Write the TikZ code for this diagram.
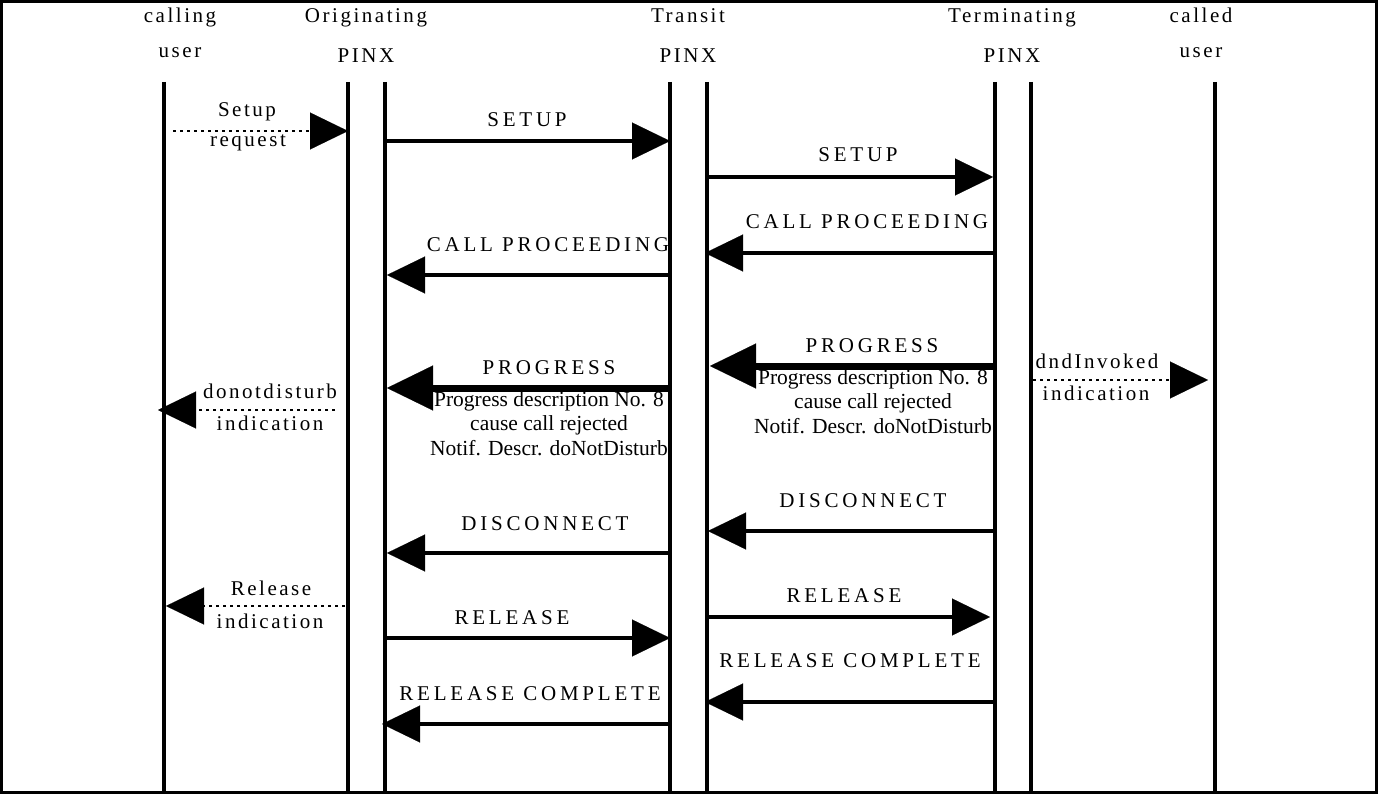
\documentclass[tikz,border=0pt]{standalone}
\usepackage{fontspec}
\setmainfont{Liberation Serif}
\newfontfamily\capsls[LetterSpace=18]{Liberation Serif}
\newfontfamily\lowls[LetterSpace=12]{Liberation Serif}
\usetikzlibrary{arrows.meta}
\tikzset{
  frame/.style={line width=2.5pt},
  life/.style={line width=4pt},
  msg/.style={line width=4pt, -{Triangle[length=38pt,width=37pt,line width=0.1pt]}},
  bigmsg/.style={line width=7pt, -{Triangle[length=46pt,width=45pt,line width=0.1pt]}},
  dotmsg/.style={line width=2.6pt, line cap=butt, dash pattern=on 2.6pt off 4.4pt, -{Triangle[length=38pt,width=37pt,line width=0.1pt]}},
  hdr/.style={font=\lowls\fontsize{21pt}{25pt}\selectfont, anchor=base, inner sep=0pt},
  lbl/.style={font=\capsls\fontsize{21pt}{25pt}\selectfont, anchor=base, inner sep=0pt},
  lowlbl/.style={font=\lowls\fontsize{21pt}{25pt}\selectfont, anchor=base, inner sep=0pt},
  ptext/.style={font=\fontsize{21.5pt}{25pt}\selectfont, anchor=base, inner sep=0pt}
}
\begin{document}
\begin{tikzpicture}[x=1pt,y=-1pt]
\useasboundingbox (0,0) rectangle (1378,794);
\draw[frame] (1.5,1.5) rectangle (1376.5,792.5);

% headers
\node[hdr] (h1a) at (180,23) {calling};
\node[hdr] (h1b) at (180,58) {user};
\node[hdr] (h2a) at (366,23) {Originating};
\node[hdr] (h2b) at (366,63) {PINX};
\node[hdr] (h3a) at (688,23) {Transit};
\node[hdr] (h3b) at (688,63) {PINX};
\node[hdr] (h4a) at (1012,23) {Terminating};
\node[hdr] (h4b) at (1012,63) {PINX};
\node[hdr] (h5a) at (1201,23) {called};
\node[hdr] (h5b) at (1201,58) {user};

% lifelines
\coordinate (cuT) at (164,82);  \coordinate (cuB) at (164,791);
\coordinate (o1T) at (348,82);  \coordinate (o1B) at (348,791);
\coordinate (o2T) at (385,82);  \coordinate (o2B) at (385,791);
\coordinate (t1T) at (670,82);  \coordinate (t1B) at (670,791);
\coordinate (t2T) at (707,82);  \coordinate (t2B) at (707,791);
\coordinate (m1T) at (995,82);  \coordinate (m1B) at (995,791);
\coordinate (m2T) at (1031,82); \coordinate (m2B) at (1031,791);
\coordinate (cdT) at (1215,82); \coordinate (cdB) at (1215,791);
\foreach \l in {cu,o1,o2,t1,t2,m1,m2,cd} \draw[life] (\l T) -- (\l B);

% 1 Setup request
\coordinate (a1s) at (173,131); \coordinate (a1e) at (348,131);
\draw[dotmsg] (a1s) -- (a1e);
\node[lowlbl] (l1a) at (247,117) {Setup};
\node[lowlbl] (l1b) at (248,147) {request};

% 2 SETUP left
\coordinate (a2s) at (385,141); \coordinate (a2e) at (670,141);
\draw[msg] (a2s) -- (a2e);
\node[lbl] (l2) at (527,127) {SETUP};

% 3 SETUP right
\coordinate (a3s) at (707,177); \coordinate (a3e) at (993,177);
\draw[msg] (a3s) -- (a3e);
\node[lbl] (l3) at (858,162) {SETUP};

% 4 CALL PROCEEDING right
\coordinate (a4s) at (995,253); \coordinate (a4e) at (705,253);
\draw[msg] (a4s) -- (a4e);
\node[lbl] (l4) at (867,229) {CALL PROCEEDING};

% 5 CALL PROCEEDING left
\coordinate (a5s) at (670,275); \coordinate (a5e) at (387,275);
\draw[msg] (a5s) -- (a5e);
\node[lbl] (l5) at (548,252) {CALL PROCEEDING};

% 6 PROGRESS right
\coordinate (a6s) at (993,366); \coordinate (a6e) at (710,366);
\draw[bigmsg] (a6s) -- (a6e);
\node[lbl] (l6) at (872,352) {PROGRESS};
\node[ptext] (p6a) at (873,384) {Progress description No. 8};
\node[ptext] (p6b) at (873,408) {cause call rejected};
\node[ptext] (p6c) at (873,433) {Notif. Descr. doNotDisturb};

% 7 PROGRESS left
\coordinate (a7s) at (668,388); \coordinate (a7e) at (387,388);
\draw[bigmsg] (a7s) -- (a7e);
\node[lbl] (l7) at (549,374) {PROGRESS};
\node[ptext] (p7a) at (549,406) {Progress description No. 8};
\node[ptext] (p7b) at (549,430) {cause call rejected};
\node[ptext] (p7c) at (549,455) {Notif. Descr. doNotDisturb};

% 8 donotdisturb indication
\coordinate (a8s) at (335,410); \coordinate (a8e) at (158,410);
\draw[dotmsg] (a8s) -- (a8e);
\node[lowlbl] (l8a) at (270,398) {donotdisturb};
\node[lowlbl] (l8b) at (270,430) {indication};

% 9 dndInvoked indication
\coordinate (a9s) at (1033,380); \coordinate (a9e) at (1208,380);
\draw[dotmsg] (a9s) -- (a9e);
\node[lowlbl] (l9a) at (1097,368) {dndInvoked};
\node[lowlbl] (l9b) at (1096,400) {indication};

% 10 DISCONNECT right
\coordinate (a10s) at (995,531); \coordinate (a10e) at (708,531);
\draw[msg] (a10s) -- (a10e);
\node[lbl] (l10) at (863,507) {DISCONNECT};

% 11 DISCONNECT left
\coordinate (a11s) at (670,553); \coordinate (a11e) at (387,553);
\draw[msg] (a11s) -- (a11e);
\node[lbl] (l11) at (545,530) {DISCONNECT};

% 12 Release indication
\coordinate (a12s) at (345,606); \coordinate (a12e) at (166,606);
\draw[dotmsg] (a12s) -- (a12e);
\node[lowlbl] (l12a) at (271,595) {Release};
\node[lowlbl] (l12b) at (270,628) {indication};

% 13 RELEASE left
\coordinate (a13s) at (385,638); \coordinate (a13e) at (670,638);
\draw[msg] (a13s) -- (a13e);
\node[lbl] (l13) at (512,624) {RELEASE};

% 14 RELEASE right
\coordinate (a14s) at (707,617); \coordinate (a14e) at (990,617);
\draw[msg] (a14s) -- (a14e);
\node[lbl] (l14) at (844,602) {RELEASE};

% 15 RELEASE COMPLETE right
\coordinate (a15s) at (995,702); \coordinate (a15e) at (705,702);
\draw[msg] (a15s) -- (a15e);
\node[lbl] (l15) at (850,667) {RELEASE COMPLETE};

% 16 RELEASE COMPLETE left
\coordinate (a16s) at (668,724); \coordinate (a16e) at (382,724);
\draw[msg] (a16s) -- (a16e);
\node[lbl] (l16) at (530,700) {RELEASE COMPLETE};
\end{tikzpicture}
\end{document}
